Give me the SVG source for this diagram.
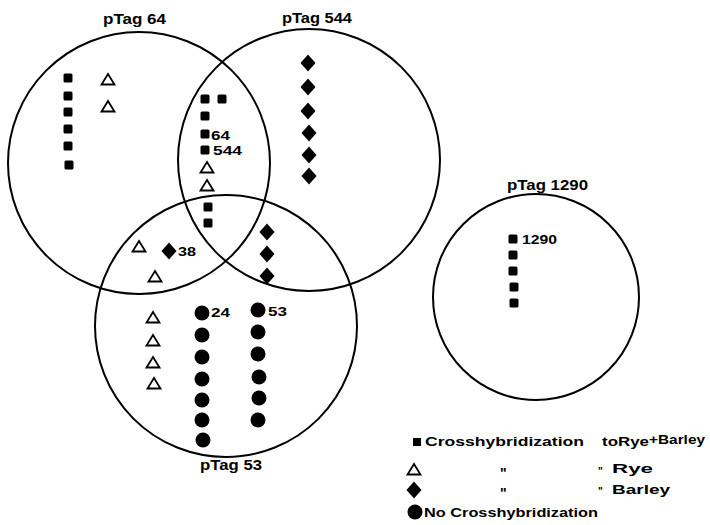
<svg xmlns="http://www.w3.org/2000/svg" xmlns:xlink="http://www.w3.org/1999/xlink" width="710" height="525" viewBox="0 0 710 525">
  <style>
    .ring { fill: none; stroke: #000; stroke-width: 2; }
    .title { font-family: "Liberation Sans", Arial, sans-serif; font-weight: bold; font-size: 14px; fill: #000; }
    .tag { font-family: "Liberation Sans", Arial, sans-serif; font-weight: bold; font-size: 12.5px; fill: #000; }
    .key { font-family: "Liberation Sans", Arial, sans-serif; font-weight: bold; font-size: 13px; fill: #000; }
    .ditto { font-family: "Liberation Sans", Arial, sans-serif; font-weight: bold; font-size: 14px; fill: #000; }
    .ditto-sm { font-family: "Liberation Sans", Arial, sans-serif; font-weight: bold; font-size: 10px; fill: #000; }
  </style>
  <defs>
    <!-- square: crosshybridization to rye + barley -->
    <rect id="sq" x="-4.5" y="-4.5" width="9" height="9" rx="1.5" fill="#000"/>
    <!-- open triangle: rye -->
    <path id="tri" d="M0,-6 L6.5,4.5 L-6.5,4.5 Z" fill="#fff" stroke="#000" stroke-width="1.8" stroke-linejoin="miter"/>
    <!-- diamond: barley -->
    <path id="dia" d="M0,-8.5 L7.5,0 L0,8.5 L-7.5,0 Z" fill="#000"/>
    <!-- filled dot: no crosshybridization -->
    <circle id="dot" r="7.5" fill="#000"/>
  </defs>
  <rect width="710" height="525" fill="#fff"/>

  <g id="pTag64">
    <circle class="ring" cx="139" cy="163" r="131"/>
    <text class="title" x="103" y="24" textLength="63" lengthAdjust="spacingAndGlyphs">pTag 64</text>
    <use xlink:href="#sq" x="68" y="78"/>
    <use xlink:href="#sq" x="68" y="96"/>
    <use xlink:href="#sq" x="68" y="112"/>
    <use xlink:href="#sq" x="68" y="129"/>
    <use xlink:href="#sq" x="68" y="146"/>
    <use xlink:href="#sq" x="69" y="165"/>
    <use xlink:href="#tri" x="108" y="80"/>
    <use xlink:href="#tri" x="108" y="107"/>
  </g>

  <g id="pTag544">
    <circle class="ring" cx="309" cy="160" r="131"/>
    <text class="title" x="282" y="23" textLength="70" lengthAdjust="spacingAndGlyphs">pTag 544</text>
    <use xlink:href="#dia" x="308" y="63"/>
    <use xlink:href="#dia" x="308" y="87"/>
    <use xlink:href="#dia" x="308" y="111"/>
    <use xlink:href="#dia" x="309" y="133"/>
    <use xlink:href="#dia" x="309" y="155"/>
    <use xlink:href="#dia" x="309" y="176"/>
  </g>

  <g id="pTag53">
    <circle class="ring" cx="226" cy="326" r="131"/>
    <text class="title" x="200" y="470" textLength="62" lengthAdjust="spacingAndGlyphs">pTag 53</text>
    <use xlink:href="#tri" x="153" y="318"/>
    <use xlink:href="#tri" x="153" y="341"/>
    <use xlink:href="#tri" x="153" y="363"/>
    <use xlink:href="#tri" x="154" y="384"/>
    <use xlink:href="#dot" x="202" y="313"/>
    <use xlink:href="#dot" x="202" y="335"/>
    <use xlink:href="#dot" x="202" y="357"/>
    <use xlink:href="#dot" x="202" y="379"/>
    <use xlink:href="#dot" x="202" y="400"/>
    <use xlink:href="#dot" x="202" y="420"/>
    <use xlink:href="#dot" x="203" y="440"/>
    <text class="tag" x="211" y="317" textLength="19" lengthAdjust="spacingAndGlyphs">24</text>
    <use xlink:href="#dot" x="258" y="310"/>
    <use xlink:href="#dot" x="258" y="332"/>
    <use xlink:href="#dot" x="258" y="354"/>
    <use xlink:href="#dot" x="259" y="377"/>
    <use xlink:href="#dot" x="259" y="398"/>
    <use xlink:href="#dot" x="258" y="420"/>
    <text class="tag" x="268" y="316" textLength="19" lengthAdjust="spacingAndGlyphs">53</text>
  </g>

  <!-- shared regions -->
  <g id="overlap-64-544">
    <use xlink:href="#sq" x="205" y="99"/>
    <use xlink:href="#sq" x="222" y="99"/>
    <use xlink:href="#sq" x="205" y="116"/>
    <use xlink:href="#sq" x="205" y="134"/>
    <text class="tag" x="211" y="140" textLength="19" lengthAdjust="spacingAndGlyphs">64</text>
    <use xlink:href="#sq" x="205" y="150"/>
    <text class="tag" x="213" y="155" textLength="29" lengthAdjust="spacingAndGlyphs">544</text>
    <use xlink:href="#tri" x="207" y="168"/>
    <use xlink:href="#tri" x="207" y="186"/>
    <use xlink:href="#sq" x="208" y="207"/>
    <use xlink:href="#sq" x="208" y="223"/>
  </g>

  <g id="overlap-64-53">
    <use xlink:href="#tri" x="139" y="247"/>
    <use xlink:href="#dia" x="169" y="251"/>
    <text class="tag" x="178" y="256" textLength="18" lengthAdjust="spacingAndGlyphs">38</text>
    <use xlink:href="#tri" x="155" y="277"/>
  </g>

  <g id="overlap-544-53">
    <use xlink:href="#dia" x="267" y="232"/>
    <use xlink:href="#dia" x="267" y="254"/>
    <use xlink:href="#dia" x="267" y="276"/>
  </g>

  <g id="pTag1290">
    <circle class="ring" cx="536" cy="297" r="103"/>
    <text class="title" x="507" y="190" textLength="81" lengthAdjust="spacingAndGlyphs">pTag 1290</text>
    <use xlink:href="#sq" x="513" y="239"/>
    <text class="tag" x="522" y="244" textLength="35" lengthAdjust="spacingAndGlyphs">1290</text>
    <use xlink:href="#sq" x="513" y="255"/>
    <use xlink:href="#sq" x="513" y="271"/>
    <use xlink:href="#sq" x="514" y="287"/>
    <use xlink:href="#sq" x="514" y="303"/>
  </g>

  <g id="legend">
    <rect x="413" y="438" width="8" height="8" fill="#000"/>
    <text class="key" x="425" y="446" textLength="159" lengthAdjust="spacingAndGlyphs">Crosshybridization</text>
    <text class="key" x="602" y="446" textLength="47" lengthAdjust="spacingAndGlyphs">toRye</text>
    <text class="key" x="649" y="444" font-size="11" textLength="56" lengthAdjust="spacingAndGlyphs">+Barley</text>

    <use xlink:href="#tri" x="414" y="470"/>
    <text class="ditto" x="500" y="478">"</text>
    <text class="ditto-sm" x="598" y="475">"</text>
    <text class="key" x="612" y="473" textLength="41" lengthAdjust="spacingAndGlyphs">Rye</text>

    <use xlink:href="#dia" x="414" y="490"/>
    <text class="ditto" x="500" y="498">"</text>
    <text class="ditto-sm" x="598" y="495">"</text>
    <text class="key" x="612" y="494" textLength="58" lengthAdjust="spacingAndGlyphs">Barley</text>

    <circle cx="415" cy="512" r="7.5" fill="#000"/>
    <text class="key" x="424" y="517" textLength="174" lengthAdjust="spacingAndGlyphs">No Crosshybridization</text>
  </g>
</svg>
